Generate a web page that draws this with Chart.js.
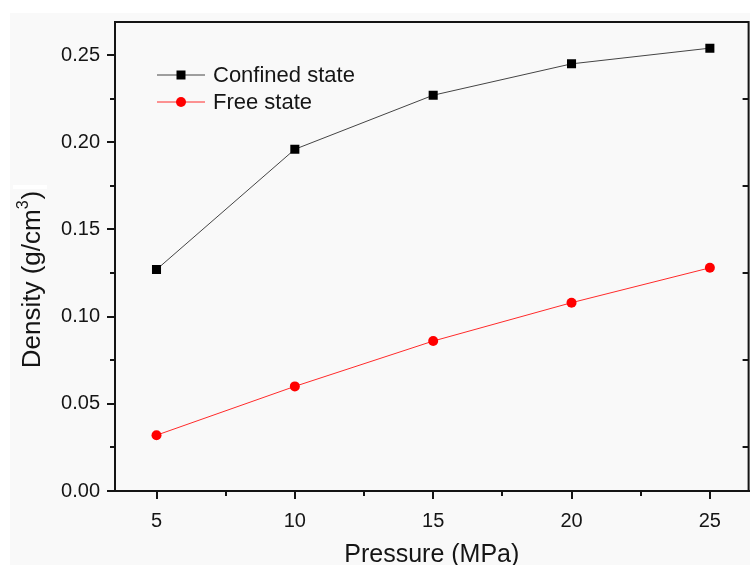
<!DOCTYPE html>
<html lang="en">
<head>
<meta charset="UTF-8">
<title>Density vs Pressure</title>
<script src="https://cdn.jsdelivr.net/npm/chart.js"></script>
<style>
    body { margin: 0; background: #fff; overflow: hidden; }
    #chartBox {
        position: absolute;
        left: 10px;
        top: 13px;
        width: 745px;
        height: 552px;
        background: #f9f9f9;
    }
    /* thin white streak that sits over the y title in the original */
    #streak {
        position: absolute;
        left: 13px;
        top: 185px;
        width: 34px;
        height: 4px;
        background: #fff;
    }
</style>
</head>
<body>

<div id="chartBox"><canvas id="densityChart"></canvas></div>
<div id="streak"></div>

<script>
    const pressure = [5, 10, 15, 20, 25];
    const confinedDensity = [0.127, 0.196, 0.227, 0.245, 0.254];
    const freeDensity = [0.032, 0.060, 0.086, 0.108, 0.128];
    const seriesNames = ['Confined state', 'Free state'];
    const xTicks = [5, 10, 15, 20, 25];
    const yTicks = [0.00, 0.05, 0.10, 0.15, 0.20, 0.25];
    const xMinorTicks = [7.5, 12.5, 17.5, 22.5];
    const yMinorTicks = [0.025, 0.075, 0.125, 0.175, 0.225];

    const FONT = "'Liberation Sans', Arial, sans-serif";
    const INK = '#151515';

    // frame, minor ticks, y title with a real superscript and the in-plot legend
    const decorPlugin = {
        id: 'decor',
        afterDraw(chart) {
            const { ctx, chartArea: a, scales } = chart;
            const x = scales.x, y = scales.y;
            ctx.save();
            ctx.strokeStyle = INK;
            ctx.lineWidth = 2;
            ctx.strokeRect(a.left, a.top, a.right - a.left, a.bottom - a.top);

            ctx.beginPath();
            xMinorTicks.forEach(v => {
                const px = Math.round(x.getPixelForValue(v));
                ctx.moveTo(px, a.bottom);
                ctx.lineTo(px, a.bottom + 5);
            });
            yMinorTicks.forEach(v => {
                const py = Math.round(y.getPixelForValue(v));
                ctx.moveTo(a.left, py);
                ctx.lineTo(a.left - 5, py);
                ctx.moveTo(a.right, py);
                ctx.lineTo(a.right - 6, py);
            });
            ctx.stroke();

            // y title: Density (g/cm^3)
            ctx.save();
            ctx.translate(23, (a.top + a.bottom) / 2 + 23);
            ctx.rotate(-Math.PI / 2);
            ctx.fillStyle = INK;
            ctx.textBaseline = 'middle';
            const main = 'Density (g/cm', sup = '3', tail = ')';
            ctx.font = '26px ' + FONT;
            const wMain = ctx.measureText(main).width, wTail = ctx.measureText(tail).width;
            ctx.font = '16px ' + FONT;
            const wSup = ctx.measureText(sup).width;
            let tx = -(wMain + wSup + 1 + wTail) / 2;
            ctx.font = '26px ' + FONT;
            ctx.fillText(main, tx, 0);
            ctx.font = '16px ' + FONT;
            ctx.fillText(sup, tx + wMain, -9);
            ctx.font = '26px ' + FONT;
            ctx.fillText(tail, tx + wMain + wSup + 1, 0);
            ctx.restore();

            // legend
            chart.data.datasets.forEach((ds, i) => {
                const ly = a.top + 53 + i * 27;
                const x0 = a.left + 42, x1 = a.left + 90, xm = (x0 + x1) / 2;
                ctx.strokeStyle = ds.borderColor;
                ctx.lineWidth = 1;
                ctx.beginPath();
                ctx.moveTo(x0, ly);
                ctx.lineTo(x1, ly);
                ctx.stroke();
                ctx.fillStyle = ds.pointBackgroundColor;
                ctx.beginPath();
                if (ds.pointStyle === 'rect') {
                    ctx.rect(xm - 4.5, ly - 4.5, 9, 9);
                } else {
                    ctx.arc(xm, ly, 5, 0, Math.PI * 2);
                }
                ctx.fill();
                ctx.fillStyle = INK;
                ctx.font = '22px ' + FONT;
                ctx.textBaseline = 'middle';
                ctx.fillText(ds.label, a.left + 98, ly + 1);
            });
            ctx.restore();
        }
    };

    const ctx = document.getElementById('densityChart').getContext('2d');
    new Chart(ctx, {
        type: 'line',
        data: {
            datasets: [{
                label: seriesNames[0],
                data: pressure.map((p, i) => ({ x: p, y: confinedDensity[i] })),
                borderColor: '#444',
                borderWidth: 1,
                pointStyle: 'rect',
                pointRadius: 6.4,
                pointBackgroundColor: '#000',
                pointBorderWidth: 0,
                tension: 0
            }, {
                label: seriesNames[1],
                data: pressure.map((p, i) => ({ x: p, y: freeDensity[i] })),
                borderColor: '#ff2a2a',
                borderWidth: 1,
                pointStyle: 'circle',
                pointRadius: 5,
                pointBackgroundColor: '#ff0000',
                pointBorderWidth: 0,
                tension: 0
            }]
        },
        options: {
            responsive: true,
            maintainAspectRatio: false,
            animation: false,
            devicePixelRatio: 1,
            layout: { padding: { top: 9, right: 1, left: 0, bottom: 0 } },
            plugins: {
                legend: { display: false },
                tooltip: { enabled: false }
            },
            scales: {
                x: {
                    type: 'linear',
                    min: 3.5,
                    max: 26.4,
                    afterBuildTicks: s => { s.ticks = xTicks.map(v => ({ value: v })); },
                    afterFit: s => { s.height = 74; s.paddingLeft = 0; s.paddingRight = 0; },
                    grid: { drawOnChartArea: false, tickLength: 8, tickColor: INK, lineWidth: 2 },
                    border: { color: INK, width: 2 },
                    ticks: { color: INK, padding: 10, font: { family: FONT, size: 20 }, maxRotation: 0 },
                    title: {
                        display: true,
                        text: 'Pressure (MPa)',
                        color: INK,
                        font: { family: FONT, size: 25, lineHeight: 0.76 },
                        padding: { top: 0, bottom: 0 }
                    }
                },
                y: {
                    min: 0,
                    max: 0.269,
                    afterBuildTicks: s => { s.ticks = yTicks.map(v => ({ value: v })); },
                    afterFit: s => { s.width = 105; s.paddingTop = 0; s.paddingBottom = 0; },
                    grid: { drawOnChartArea: false, tickLength: 8, tickColor: INK, lineWidth: 2 },
                    border: { color: INK, width: 2 },
                    ticks: {
                        color: INK,
                        padding: 7,
                        font: { family: FONT, size: 20 },
                        callback: v => v.toFixed(2)
                    },
                    title: { display: false }
                }
            }
        },
        plugins: [decorPlugin]
    });
</script>

</body>
</html>
